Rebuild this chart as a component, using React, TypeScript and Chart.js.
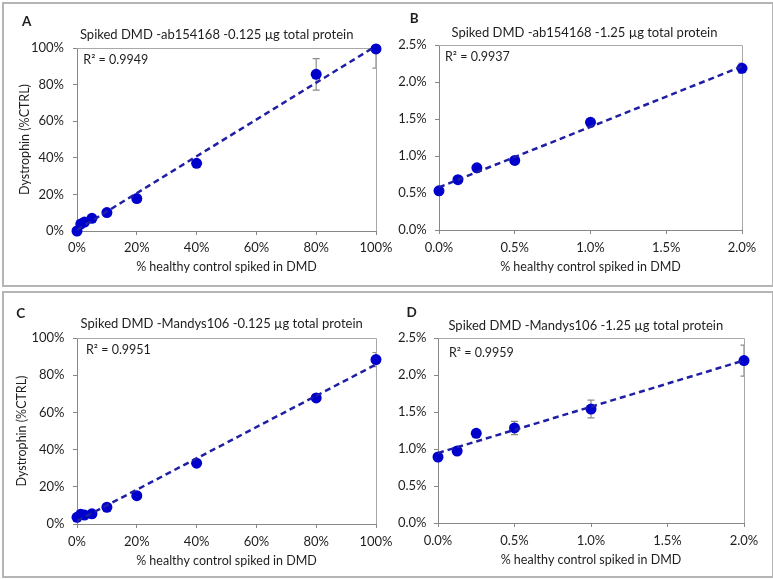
import React, { useEffect, useRef } from 'react';
import { Chart, registerables } from 'chart.js';

Chart.register(...registerables);

const FONT = 'Lato, "Liberation Sans", Arial, sans-serif';

// ---- Data (values in percent) ----
const xLow = [0, 1.25, 2.5, 5, 10, 20, 40, 80, 100];
const xHigh = [0, 0.125, 0.25, 0.5, 1, 2];

const yA = [0, 3.8, 4.9, 6.9, 10.1, 17.7, 37, 85.6, 99.5];
const errA = [0, 0, 0, 0, 0, 0, 0, 8.6, 10.5];

const yB = [0.53, 0.68, 0.84, 0.94, 1.455, 2.185];
const errB = [0, 0, 0, 0, 0, 0.07];

const yC = [3.6, 5.2, 4.8, 5.5, 9, 15.2, 32.7, 67.8, 88.4];
const errC = [0, 0, 0, 0, 0, 0, 0, 0, 3.8];

const yD = [0.892, 0.973, 1.212, 1.284, 1.54, 2.195];
const errD = [0, 0, 0, 0.09, 0.12, 0.21];

const titles = [
  'Spiked DMD -ab154168 -0.125 µg total protein',
  'Spiked DMD -ab154168 -1.25 µg total protein',
  'Spiked DMD -Mandys106 -0.125 µg total protein',
  'Spiked DMD -Mandys106 -1.25 µg total protein',
];
const letters = ['A', 'B', 'C', 'D'];
const r2Values = ['0.9949', '0.9937', '0.9951', '0.9959'];
const xAxisTitle = '% healthy control spiked in DMD';
const yAxisTitle = 'Dystrophin (%CTRL)';

const lowTicks = { max: 100, step: 20 };
const highTicks = { max: 2, step: 0.5 };
const highYTicks = { max: 2.5, step: 0.5 };

type Panel = {
  xs: number[]; ys: number[]; errs: number[];
  title: string; letter: string; r2: string;
  xMax: number; xStep: number; yMax: number; yStep: number; decimals: number;
  left: number; top: number; width: number; height: number;
  area: { l: number; r: number; t: number; b: number };
  yTitle: boolean; yTitleX: number; yTickPad: number; xLabelY: number; xTitleY: number;
  titleX: number; titleY: number; letterX: number; letterY: number; r2X: number; r2Y: number;
};

const panels: Panel[] = [
  {
    xs: xLow, ys: yA, errs: errA, title: titles[0], letter: letters[0], r2: r2Values[0],
    xMax: lowTicks.max, xStep: lowTicks.step, yMax: lowTicks.max, yStep: lowTicks.step, decimals: 0,
    left: 0, top: 0, width: 400, height: 285,
    area: { l: 77, r: 376, t: 48, b: 231 },
    yTitle: true, yTitleX: 25, yTickPad: 9, xLabelY: 248, xTitleY: 267,
    titleX: 216.7, titleY: 34.5, letterX: 26.7, letterY: 21.7, r2X: 83.3, r2Y: 60,
  },
  {
    xs: xHigh, ys: yB, errs: errB, title: titles[1], letter: letters[1], r2: r2Values[1],
    xMax: highTicks.max, xStep: highTicks.step, yMax: highYTicks.max, yStep: highYTicks.step, decimals: 1,
    left: 386, top: 0, width: 387, height: 285,
    area: { l: 439, r: 742, t: 45, b: 230 },
    yTitle: false, yTitleX: 0, yTickPad: 8.3, xLabelY: 248.3, xTitleY: 266.7,
    titleX: 584.5, titleY: 33, letterX: 414.3, letterY: 18.5, r2X: 445, r2Y: 57.3,
  },
  {
    xs: xLow, ys: yC, errs: errC, title: titles[2], letter: letters[2], r2: r2Values[2],
    xMax: lowTicks.max, xStep: lowTicks.step, yMax: lowTicks.max, yStep: lowTicks.step, decimals: 0,
    left: 0, top: 285, width: 400, height: 294,
    area: { l: 77, r: 376, t: 338, b: 524 },
    yTitle: true, yTitleX: 22.3, yTickPad: 8.5, xLabelY: 542.3, xTitleY: 561,
    titleX: 221.7, titleY: 324, letterX: 20.7, letterY: 313.3, r2X: 86, r2Y: 350,
  },
  {
    xs: xHigh, ys: yD, errs: errD, title: titles[3], letter: letters[3], r2: r2Values[3],
    xMax: highTicks.max, xStep: highTicks.step, yMax: highYTicks.max, yStep: highYTicks.step, decimals: 1,
    left: 386, top: 285, width: 387, height: 294,
    area: { l: 438, r: 744, t: 338, b: 523 },
    yTitle: false, yTitleX: 0, yTickPad: 7.5, xLabelY: 541, xTitleY: 560,
    titleX: 585.8, titleY: 326, letterX: 411.7, letterY: 312.3, r2X: 449, r2Y: 353.3,
  },
];

function linFit(xs: number[], ys: number[]) {
  const n = xs.length;
  const mx = xs.reduce((a, b) => a + b, 0) / n;
  const my = ys.reduce((a, b) => a + b, 0) / n;
  let sxy = 0, sxx = 0;
  for (let i = 0; i < n; i++) {
    sxy += (xs[i] - mx) * (ys[i] - my);
    sxx += (xs[i] - mx) * (xs[i] - mx);
  }
  const m = sxy / sxx;
  return { m, b: my - m * mx };
}

const AXIS_COLOR = '#878787';
const FRAME_COLOR = '#a8a8a8';
const TEXT_COLOR = '#1e1e1e';
const POINT_COLOR = '#0000cc';
const TREND_COLOR = '#1f1fa6';
const LH = 1.2;
const TICK_SIZE = 13;
const AXIS_TITLE_SIZE = 12.5;

function PanelChart({ p }: { p: Panel }) {
  const ref = useRef<HTMLCanvasElement>(null);
  useEffect(() => {
    const W = p.width, H = p.height;
    const a = { l: p.area.l - p.left, r: p.area.r - p.left, t: p.area.t - p.top, b: p.area.b - p.top };
    const halfTitle = (AXIS_TITLE_SIZE * LH) / 2;
    const halfTick = (TICK_SIZE * LH) / 2;
    const padLeft = p.yTitle ? p.yTitleX - p.left - halfTitle : 4;
    const yWidth = a.l - padLeft;
    const xBottom = p.xTitleY - p.top + halfTitle;
    const xHeight = xBottom - a.b;
    const padBottom = H - xBottom;
    const xTickPad = p.xLabelY - p.top - a.b - 4 - halfTick;

    const fit = linFit(p.xs, p.ys);
    const x0 = Math.min(...p.xs), x1 = Math.max(...p.xs);
    const trend = [
      { x: x0, y: fit.b + fit.m * x0 },
      { x: x1, y: fit.b + fit.m * x1 },
    ];
    const pts = p.xs.map((x, i) => ({ x, y: p.ys[i] }));
    const fmt = (v: any) => Number(v).toFixed(p.decimals) + '%';

    const deco = {
      id: 'deco' + p.letter,
      beforeDatasetsDraw(chart: any) {
        const { ctx, chartArea: ca, scales } = chart;
        const xs = scales.x, ys = scales.y;
        ctx.save();
        ctx.strokeStyle = FRAME_COLOR;
        ctx.lineWidth = 1;
        ctx.beginPath();
        ctx.moveTo(ca.left, Math.round(ca.top) + 0.5);
        ctx.lineTo(Math.round(ca.right) + 0.5, Math.round(ca.top) + 0.5);
        ctx.lineTo(Math.round(ca.right) + 0.5, ca.bottom);
        ctx.stroke();
        // error bars
        ctx.beginPath();
        ctx.rect(ca.left, ca.top, ca.right - ca.left, ca.bottom - ca.top);
        ctx.clip();
        ctx.strokeStyle = '#8c8c8c';
        ctx.lineWidth = 1.2;
        p.errs.forEach((e, i) => {
          if (!e) return;
          const px = xs.getPixelForValue(p.xs[i]);
          const yt = ys.getPixelForValue(p.ys[i] + e);
          const yb = ys.getPixelForValue(p.ys[i] - e);
          ctx.beginPath();
          ctx.moveTo(px, yt); ctx.lineTo(px, yb);
          ctx.moveTo(px - 3.5, yt); ctx.lineTo(px + 3.5, yt);
          ctx.moveTo(px - 3.5, yb); ctx.lineTo(px + 3.5, yb);
          ctx.stroke();
        });
        ctx.restore();
      },
      afterDraw(chart: any) {
        const { ctx } = chart;
        ctx.save();
        ctx.fillStyle = TEXT_COLOR;
        ctx.textBaseline = 'middle';
        ctx.textAlign = 'center';
        ctx.font = `13px ${FONT}`;
        ctx.fillText(p.title, p.titleX - p.left, p.titleY - p.top);
        ctx.font = `bold 13.5px ${FONT}`;
        ctx.fillText(p.letter, p.letterX - p.left, p.letterY - p.top);
        ctx.textAlign = 'left';
        ctx.font = `12.5px ${FONT}`;
        ctx.fillText('R² = ' + p.r2, p.r2X - p.left, p.r2Y - p.top);
        ctx.restore();
      },
    };

    const chart = new Chart(ref.current as HTMLCanvasElement, {
      type: 'scatter',
      data: {
        datasets: [
          {
            type: 'line',
            data: trend,
            borderColor: TREND_COLOR,
            borderWidth: 2.5,
            borderDash: [6, 4],
            pointRadius: 0,
            fill: false,
            order: 0,
          } as any,
          {
            data: pts,
            backgroundColor: POINT_COLOR,
            borderColor: POINT_COLOR,
            borderWidth: 0,
            pointRadius: 5.5,
            clip: false,
            order: 1,
          } as any,
        ],
      },
      options: {
        animation: false,
        responsive: false,
        devicePixelRatio: 1,
        events: [],
        layout: { padding: { left: padLeft, top: a.t, right: W - a.r, bottom: padBottom } },
        plugins: { legend: { display: false }, tooltip: { enabled: false }, title: { display: false } },
        scales: {
          x: {
            type: 'linear', min: 0, max: p.xMax,
            ticks: { stepSize: p.xStep, padding: xTickPad, color: TEXT_COLOR, font: { family: FONT, size: TICK_SIZE }, callback: fmt, maxRotation: 0, autoSkip: false },
            grid: { drawOnChartArea: false, drawTicks: true, tickLength: 4, color: AXIS_COLOR },
            border: { display: true, color: AXIS_COLOR, width: 1 },
            title: { display: true, text: xAxisTitle, color: TEXT_COLOR, font: { family: FONT, size: AXIS_TITLE_SIZE }, padding: 0 },
            afterFit: (s: any) => { s.height = xHeight; },
          },
          y: {
            type: 'linear', min: 0, max: p.yMax,
            ticks: { stepSize: p.yStep, padding: p.yTickPad, color: TEXT_COLOR, font: { family: FONT, size: TICK_SIZE }, callback: fmt, autoSkip: false },
            grid: { drawOnChartArea: false, drawTicks: true, tickLength: 4, color: AXIS_COLOR },
            border: { display: true, color: AXIS_COLOR, width: 1 },
            title: { display: p.yTitle, text: yAxisTitle, color: TEXT_COLOR, font: { family: FONT, size: AXIS_TITLE_SIZE }, padding: 0 },
            afterFit: (s: any) => { s.width = yWidth; },
          },
        },
      } as any,
      plugins: [deco],
    });
    return () => chart.destroy();
  }, []);
  return (
    <canvas
      ref={ref}
      width={p.width}
      height={p.height}
      style={{ position: 'absolute', left: p.left, top: p.top, width: p.width, height: p.height }}
    />
  );
}

export default function App() {
  const box: React.CSSProperties = {
    position: 'absolute', left: 2, width: 768, border: '2px solid #b5b5b5', boxSizing: 'content-box',
  };
  return (
    <div style={{ position: 'absolute', left: 0, top: 0, width: 773, height: 579, background: '#fff', overflow: 'hidden' }}>
      <div style={{ ...box, top: 2, height: 281 }} />
      <div style={{ ...box, top: 291, height: 283 }} />
      {panels.map((p) => (
        <PanelChart key={p.letter} p={p} />
      ))}
    </div>
  );
}
